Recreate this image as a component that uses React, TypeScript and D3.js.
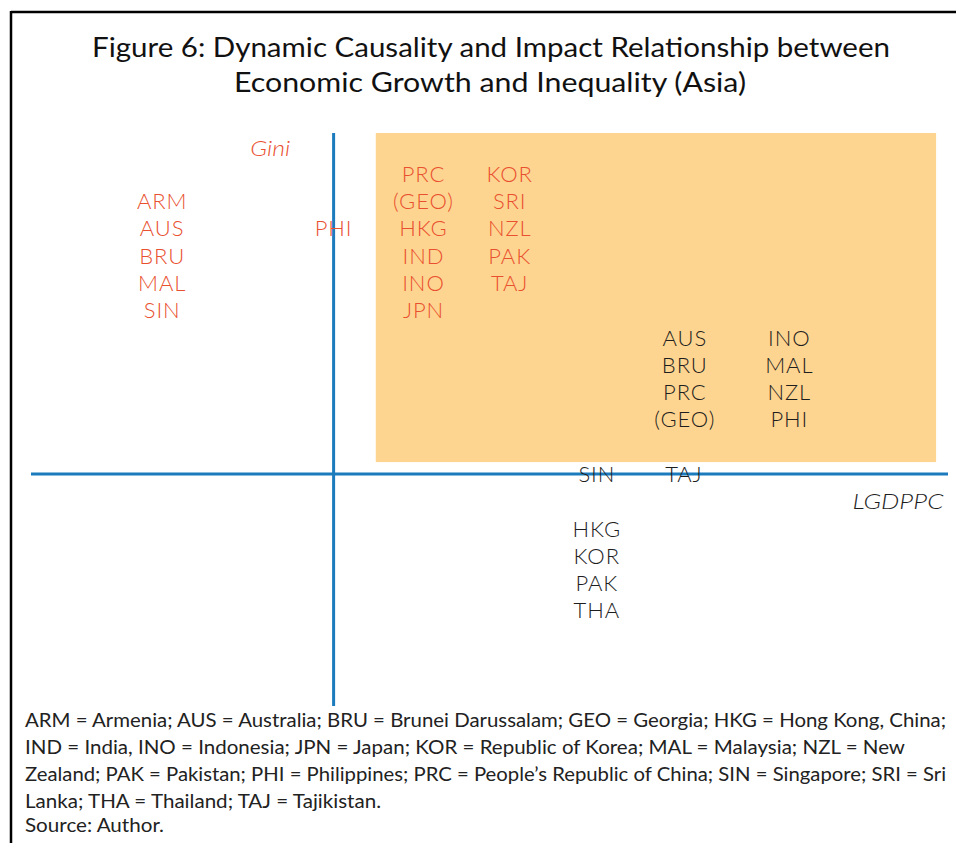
import React from 'react';
import * as d3 from 'd3';

const W = 956;
const H = 843;

// title and footnote text
const titleLines = [
  'Figure 6: Dynamic Causality and Impact Relationship between',
  'Economic Growth and Inequality (Asia)',
];
const noteLines = [
  'ARM = Armenia; AUS = Australia; BRU = Brunei Darussalam; GEO = Georgia; HKG = Hong Kong, China;',
  'IND = India, INO = Indonesia; JPN = Japan; KOR = Republic of Korea; MAL = Malaysia; NZL = New',
  'Zealand; PAK = Pakistan; PHI = Philippines; PRC = People\u2019s Republic of China; SIN = Singapore; SRI = Sri',
  'Lanka; THA = Thailand; TAJ = Tajikistan.',
  'Source: Author.',
];

// country groups: column position (LGDPPC units), first row (Gini units), type
const groupX = [-1.87, 0, 0.98, 1.92, 3.83, 4.97, 2.87, 3.82, 2.87];
const groupY = [10, 9, 11, 11, 5, 5, 0, 0, -2];
const groupKind = ['gini', 'gini', 'gini', 'gini', 'growth', 'growth', 'growth', 'growth', 'growth'];
const groupLabels = [
  ['ARM', 'AUS', 'BRU', 'MAL', 'SIN'],
  ['PHI'],
  ['PRC', '(GEO)', 'HKG', 'IND', 'INO', 'JPN'],
  ['KOR', 'SRI', 'NZL', 'PAK', 'TAJ'],
  ['AUS', 'BRU', 'PRC', '(GEO)'],
  ['INO', 'MAL', 'NZL', 'PHI'],
  ['SIN'],
  ['TAJ'],
  ['HKG', 'KOR', 'PAK', 'THA'],
];

// highlighted quadrant
const boxX = [0.46, 6.57];
const boxY = [0.44, 12.5];

const x = d3.scaleLinear().domain([-3.3, 6.7]).range([31, 948]);
const y = d3.scaleLinear().domain([-8.5, 12.5]).range([706, 133]);

const RED = '#e9502f';
const DARK = '#1e1e1e';
const AXIS = '#1b7bbd';
const FONT = 'Lato, "Open Sans", sans-serif';

export default function App() {
  const titleLen = [798, 512];
  const noteLen = [921, 880, 921, 356, 139];
  return (
    <svg width={W} height={H} style={{ position: 'absolute', left: 0, top: 0, background: '#fff' }}
      fontFamily={FONT}>
      {/* frame */}
      <line x1={11} y1={12} x2={W} y2={12} stroke="#000" strokeWidth={2.5} />
      <line x1={11} y1={11} x2={11} y2={H} stroke="#000" strokeWidth={2.5} />

      {titleLines.map((t, i) => (
        <text key={t} x={i === 0 ? 92 : 234} y={57 + i * 35} fontSize={27} fill="#111"
          textLength={titleLen[i]} lengthAdjust="spacingAndGlyphs">{t}</text>
      ))}

      <rect x={x(boxX[0])} y={y(boxY[1])} width={x(boxX[1]) - x(boxX[0])}
        height={y(boxY[0]) - y(boxY[1])} fill="#fed590" />

      <line x1={x(0)} x2={x(0)} y1={y(12.5)} y2={y(-8.5)} stroke={AXIS} strokeWidth={3} />
      <line x1={x(-3.3)} x2={x(6.7)} y1={y(0)} y2={y(0)} stroke={AXIS} strokeWidth={3} />

      <text x={x(-0.69)} y={y(11.95)} dy="0.35em" textAnchor="middle" fontSize={22}
        fontStyle="italic" fontWeight={300} fill={RED} textLength={40}
        lengthAdjust="spacingAndGlyphs">Gini</text>
      <text x={x(6.65)} y={y(-1)} dy="0.35em" textAnchor="end" fontSize={22}
        fontStyle="italic" fontWeight={300} fill={DARK} textLength={91}
        lengthAdjust="spacingAndGlyphs">LGDPPC</text>

      {groupLabels.map((labels, g) => (
        <g key={g}>
          {labels.map((l, r) => (
            <text key={l + r} x={x(groupX[g])} y={y(groupY[g] - r)} dy="0.36em"
              textAnchor="middle" fontSize={22} fontWeight={300} letterSpacing={0.9}
              fill={groupKind[g] === 'gini' ? RED : DARK}>{l}</text>
          ))}
        </g>
      ))}

      {noteLines.map((t, i) => (
        <text key={i} x={25} y={[727, 754, 781, 808, 832][i]} fontSize={18.5} fill="#222"
          textLength={noteLen[i]} lengthAdjust="spacingAndGlyphs">{t}</text>
      ))}
    </svg>
  );
}
